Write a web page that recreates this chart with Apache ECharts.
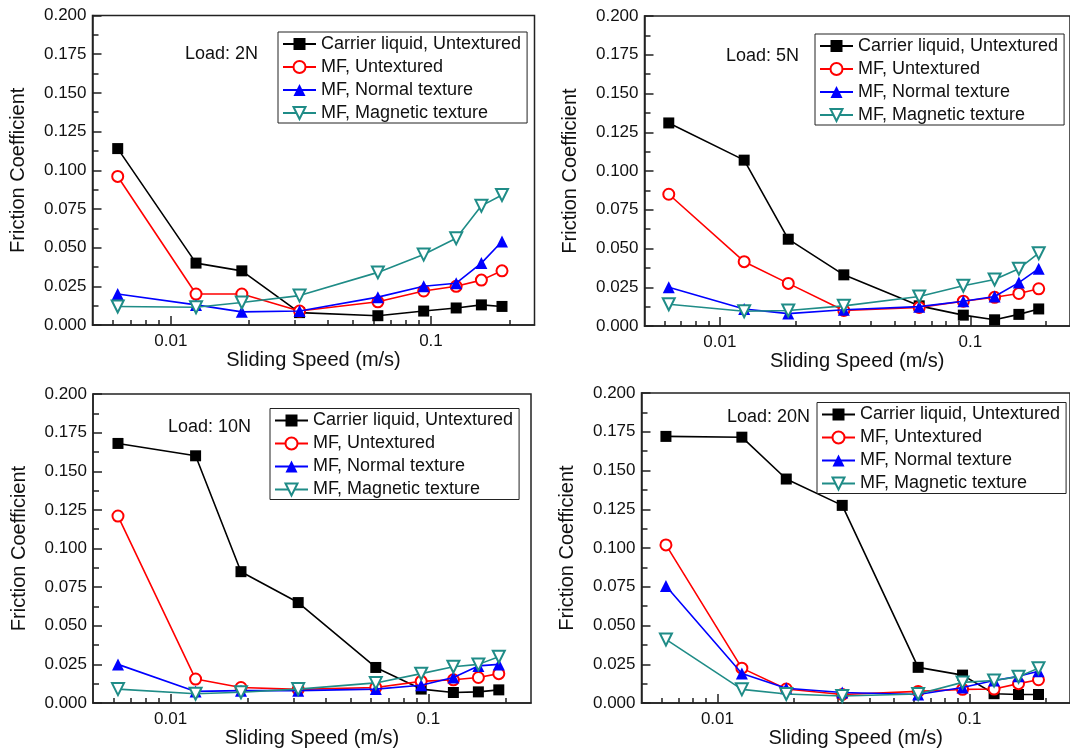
<!DOCTYPE html>
<html>
<head>
<meta charset="utf-8">
<script src="https://cdn.jsdelivr.net/npm/echarts@6/dist/echarts.min.js"></script>
<style>
html, body { margin: 0; padding: 0; background: #fff; }
#chart { width: 1070px; height: 754px; }
</style>
</head>
<body>
<div id="chart"></div>
<script>
// sliding speeds (m/s), shared by all four panels
const speeds = [0.00625, 0.0125, 0.01875, 0.03125, 0.0625, 0.09375, 0.125, 0.15625, 0.1875]

// Load: 2N
const carrier2 = [0.114, 0.040, 0.035, 0.008, 0.006, 0.009, 0.011, 0.013, 0.012]
const mfUn2    = [0.096, 0.020, 0.020, 0.009, 0.015, 0.022, 0.025, 0.029, 0.035]
const mfNorm2  = [0.020, 0.013, 0.0085, 0.009, 0.018, 0.025, 0.027, 0.040, 0.054]
const mfMag2   = [0.012, 0.0115, 0.0145, 0.019, 0.034, 0.0455, 0.056, 0.077, 0.084]

// Load: 5N
const carrier5 = [0.131, 0.107, 0.056, 0.033, 0.013, 0.007, 0.004, 0.0075, 0.011]
const mfUn5    = [0.085, 0.0415, 0.0275, 0.010, 0.012, 0.016, 0.0185, 0.021, 0.024]
const mfNorm5  = [0.025, 0.011, 0.008, 0.0105, 0.0125, 0.016, 0.019, 0.028, 0.037]
const mfMag5   = [0.014, 0.0095, 0.010, 0.013, 0.019, 0.026, 0.030, 0.037, 0.047]

// Load: 10N
const carrier10 = [0.168, 0.160, 0.085, 0.065, 0.023, 0.009, 0.0068, 0.0072, 0.0085]
const mfUn10    = [0.121, 0.0155, 0.010, 0.0088, 0.010, 0.014, 0.015, 0.0165, 0.019]
const mfNorm10  = [0.025, 0.0075, 0.008, 0.008, 0.009, 0.0115, 0.0165, 0.024, 0.025]
const mfMag10   = [0.009, 0.006, 0.007, 0.009, 0.013, 0.019, 0.0235, 0.025, 0.030]

// Load: 20N
const carrier20 = [0.172, 0.1715, 0.1445, 0.1275, 0.023, 0.018, 0.006, 0.0055, 0.0055]
const mfUn20    = [0.102, 0.0225, 0.009, 0.0055, 0.0075, 0.0088, 0.009, 0.0125, 0.015]
const mfNorm20  = [0.0755, 0.019, 0.0095, 0.0068, 0.0055, 0.0100, 0.0145, 0.0172, 0.0205]
const mfMag20   = [0.041, 0.0088, 0.0058, 0.0045, 0.0058, 0.0133, 0.0145, 0.017, 0.0225]

const loadLabels = ['Load: 2N', 'Load: 5N', 'Load: 10N', 'Load: 20N']
const panelData = [
    [carrier2, mfUn2, mfNorm2, mfMag2],
    [carrier5, mfUn5, mfNorm5, mfMag5],
    [carrier10, mfUn10, mfNorm10, mfMag10],
    [carrier20, mfUn20, mfNorm20, mfMag20]
]
const seriesNames = ['Carrier liquid, Untextured', 'MF, Untextured', 'MF, Normal texture', 'MF, Magnetic texture']

// tick values
const xMajorTicks = [0.01, 0.1]
const xMinorTicks = [0.006, 0.007, 0.008, 0.009, 0.02, 0.03, 0.04, 0.05, 0.06, 0.07, 0.08, 0.09, 0.2]

// layout of the four panels (px)
const grids = [
    { left: 92.5, top: 15.5, width: 442, height: 309.5 },
    { left: 644.5, top: 16, width: 430, height: 310 },
    { left: 93, top: 394, width: 438, height: 309 },
    { left: 641.5, top: 393, width: 429.5, height: 310 }
]
const legendPos = [
    { left: 278, top: 32 },
    { left: 815, top: 34 },
    { left: 270, top: 408.5 },
    { left: 817, top: 402.5 }
]
const labelPos = [
    { left: 185, top: 45 },
    { left: 726, top: 47.5 },
    { left: 168, top: 418.5 },
    { left: 727, top: 408 }
]

const styles = [
    { color: '#000000', symbol: 'rect', size: 11, rotate: 0 },
    { color: '#ff0000', symbol: 'emptyCircle', size: 11, rotate: 0 },
    { color: '#0000ff', symbol: 'triangle', size: 12, rotate: 0 },
    { color: '#1f8c87', symbol: 'emptyTriangle', size: 12, rotate: 180 }
]

const axisColor = '#222'
const textColor = '#111'

const xAxes = []
const yAxes = []
const series = []
const legends = []
const titles = []

grids.forEach((g, i) => {
    xAxes.push({
        type: 'log', gridIndex: i, position: 'bottom', min: 0.005, max: 0.25,
        axisLine: { show: true, lineStyle: { color: axisColor, width: 1.5 } },
        axisTick: { show: true, inside: true, length: 9, customValues: xMajorTicks, lineStyle: { color: axisColor, width: 1.5 } },
        axisLabel: {
            customValues: xMajorTicks, margin: 8, fontSize: 17, color: textColor,
            formatter: v => String(+Number(v).toPrecision(3))
        },
        splitLine: { show: false },
        name: 'Sliding Speed (m/s)', nameLocation: 'middle', nameGap: 23,
        nameTextStyle: { fontSize: 20, color: textColor }
    })
    // second axis only for the minor ticks
    xAxes.push({
        type: 'log', gridIndex: i, position: 'bottom', min: 0.005, max: 0.25,
        axisLine: { show: false },
        axisTick: { show: true, inside: true, length: 5, customValues: xMinorTicks, lineStyle: { color: axisColor, width: 1.5 } },
        axisLabel: { show: false },
        splitLine: { show: false }
    })
    yAxes.push({
        type: 'value', gridIndex: i, min: 0, max: 0.2, interval: 0.025,
        axisLine: { show: true, lineStyle: { color: axisColor, width: 1.5 } },
        axisTick: { show: true, inside: true, length: 9, lineStyle: { color: axisColor, width: 1.5 } },
        minorTick: { show: true, splitNumber: 2, length: 6, lineStyle: { color: axisColor, width: 1.5 } },
        axisLabel: { margin: 6, fontSize: 17, color: textColor, formatter: v => v.toFixed(3) },
        splitLine: { show: false },
        name: 'Friction Coefficient', nameLocation: 'middle', nameGap: 64,
        nameTextStyle: { fontSize: 20, color: textColor }
    })
    panelData[i].forEach((vals, k) => {
        const st = styles[k]
        series.push({
            type: 'line', name: seriesNames[k],
            xAxisIndex: 2 * i, yAxisIndex: i,
            data: speeds.map((s, j) => [s, vals[j]]),
            symbol: st.symbol, symbolSize: st.size, symbolRotate: st.rotate,
            itemStyle: { color: st.color },
            lineStyle: { color: st.color, width: 1.6 },
            emphasis: { disabled: true },
            z: 2 + k
        })
    })
    legends.push({
        orient: 'vertical', left: legendPos[i].left, top: legendPos[i].top,
        data: seriesNames, selectedMode: false,
        itemWidth: 33, itemHeight: 15, itemGap: 5, padding: [3, 6, 1, 4],
        borderColor: axisColor, borderWidth: 1, backgroundColor: '#fff',
        textStyle: { fontSize: 18, color: textColor }
    })
    titles.push({
        text: loadLabels[i], left: labelPos[i].left, top: labelPos[i].top, padding: 0,
        textStyle: { fontSize: 18, fontWeight: 'normal', color: textColor }
    })
})

const chart = echarts.init(document.getElementById('chart'))
chart.setOption({
    animation: false,
    textStyle: { fontFamily: '"Liberation Sans", Arial, sans-serif' },
    title: titles,
    legend: legends,
    grid: grids.map(g => Object.assign({ show: true, borderColor: axisColor, borderWidth: 1.5 }, g)),
    xAxis: xAxes,
    yAxis: yAxes,
    series: series
})
</script>
</body>
</html>
